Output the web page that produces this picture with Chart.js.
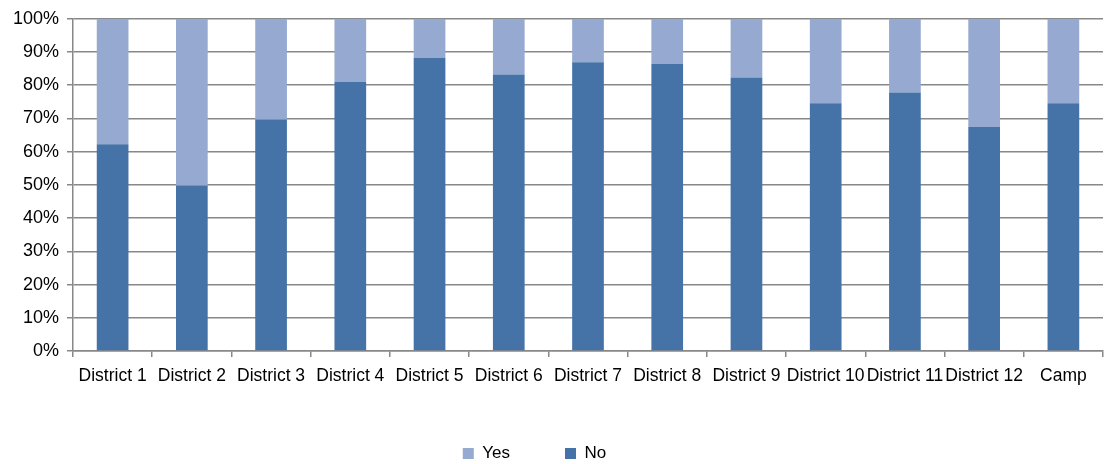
<!DOCTYPE html>
<html>
<head>
<meta charset="utf-8">
<script src="https://cdn.jsdelivr.net/npm/chart.js@4"></script>
<style>
  html, body { margin: 0; padding: 0; background: #fff; }
  #wrap { width: 1104px; height: 464px; }
</style>
</head>
<body>
<div id="wrap"><canvas id="myChart"></canvas></div>
<script>
let districts = ['District 1', 'District 2', 'District 3', 'District 4', 'District 5', 'District 6',
    'District 7', 'District 8', 'District 9', 'District 10', 'District 11', 'District 12', 'Camp'];
let noValues = [62.2, 49.8, 69.7, 81.0, 88.3, 83.2, 86.9, 86.4, 82.3, 74.6, 77.8, 67.4, 74.6];
let yesValues = noValues.map(v => Math.round((100 - v) * 10) / 10);
let yTicks = [0, 10, 20, 30, 40, 50, 60, 70, 80, 90, 100];

let family = '"Liberation Sans", Arial, sans-serif';
Chart.defaults.color = '#000';

// nudge the legend a little left, like the original
let legendShift = {
    id: 'legendShift',
    afterLayout(chart) {
        chart.legend.left -= 17;
        chart.legend.right -= 17;
    }
};

let ctx = document.getElementById('myChart').getContext('2d');

let myChart = new Chart(ctx, {
    type: 'bar',
    data: {
        labels: districts,
        datasets: [
            { label: 'No', data: noValues, backgroundColor: '#4573a7',
              barPercentage: 0.4, categoryPercentage: 1.0 },
            { label: 'Yes', data: yesValues, backgroundColor: '#95a9d1',
              barPercentage: 0.4, categoryPercentage: 1.0 }
        ]
    },
    plugins: [legendShift],
    options: {
        responsive: true,
        maintainAspectRatio: false,
        animation: false,
        layout: { padding: { top: 10, right: 1, bottom: -8, left: 0 } },
        plugins: {
            legend: {
                position: 'bottom',
                reverse: true,
                labels: { font: { family: family, size: 17 }, boxWidth: 11, boxHeight: 11, padding: 55 }
            },
            tooltip: { enabled: false }
        },
        scales: {
            x: {
                stacked: true,
                grid: { drawOnChartArea: false, offset: true, tickLength: 6, color: '#888', lineWidth: 1.5 },
                border: { color: '#888', width: 1.5 },
                ticks: { font: { family: family, size: 17.5 }, padding: 9, maxRotation: 0, autoSkip: false },
                afterFit: s => { s.height = 39; }
            },
            y: {
                stacked: true,
                min: 0,
                max: 100,
                afterBuildTicks: s => { s.ticks = yTicks.map(v => ({ value: v })); },
                grid: { color: '#888', lineWidth: 1.5, tickLength: 6 },
                border: { color: '#888', width: 1.5 },
                ticks: { font: { family: family, size: 18 }, padding: 8, callback: v => v + '%' },
                afterFit: s => { s.width = 73; }
            }
        }
    }
});
</script>
</body>
</html>
